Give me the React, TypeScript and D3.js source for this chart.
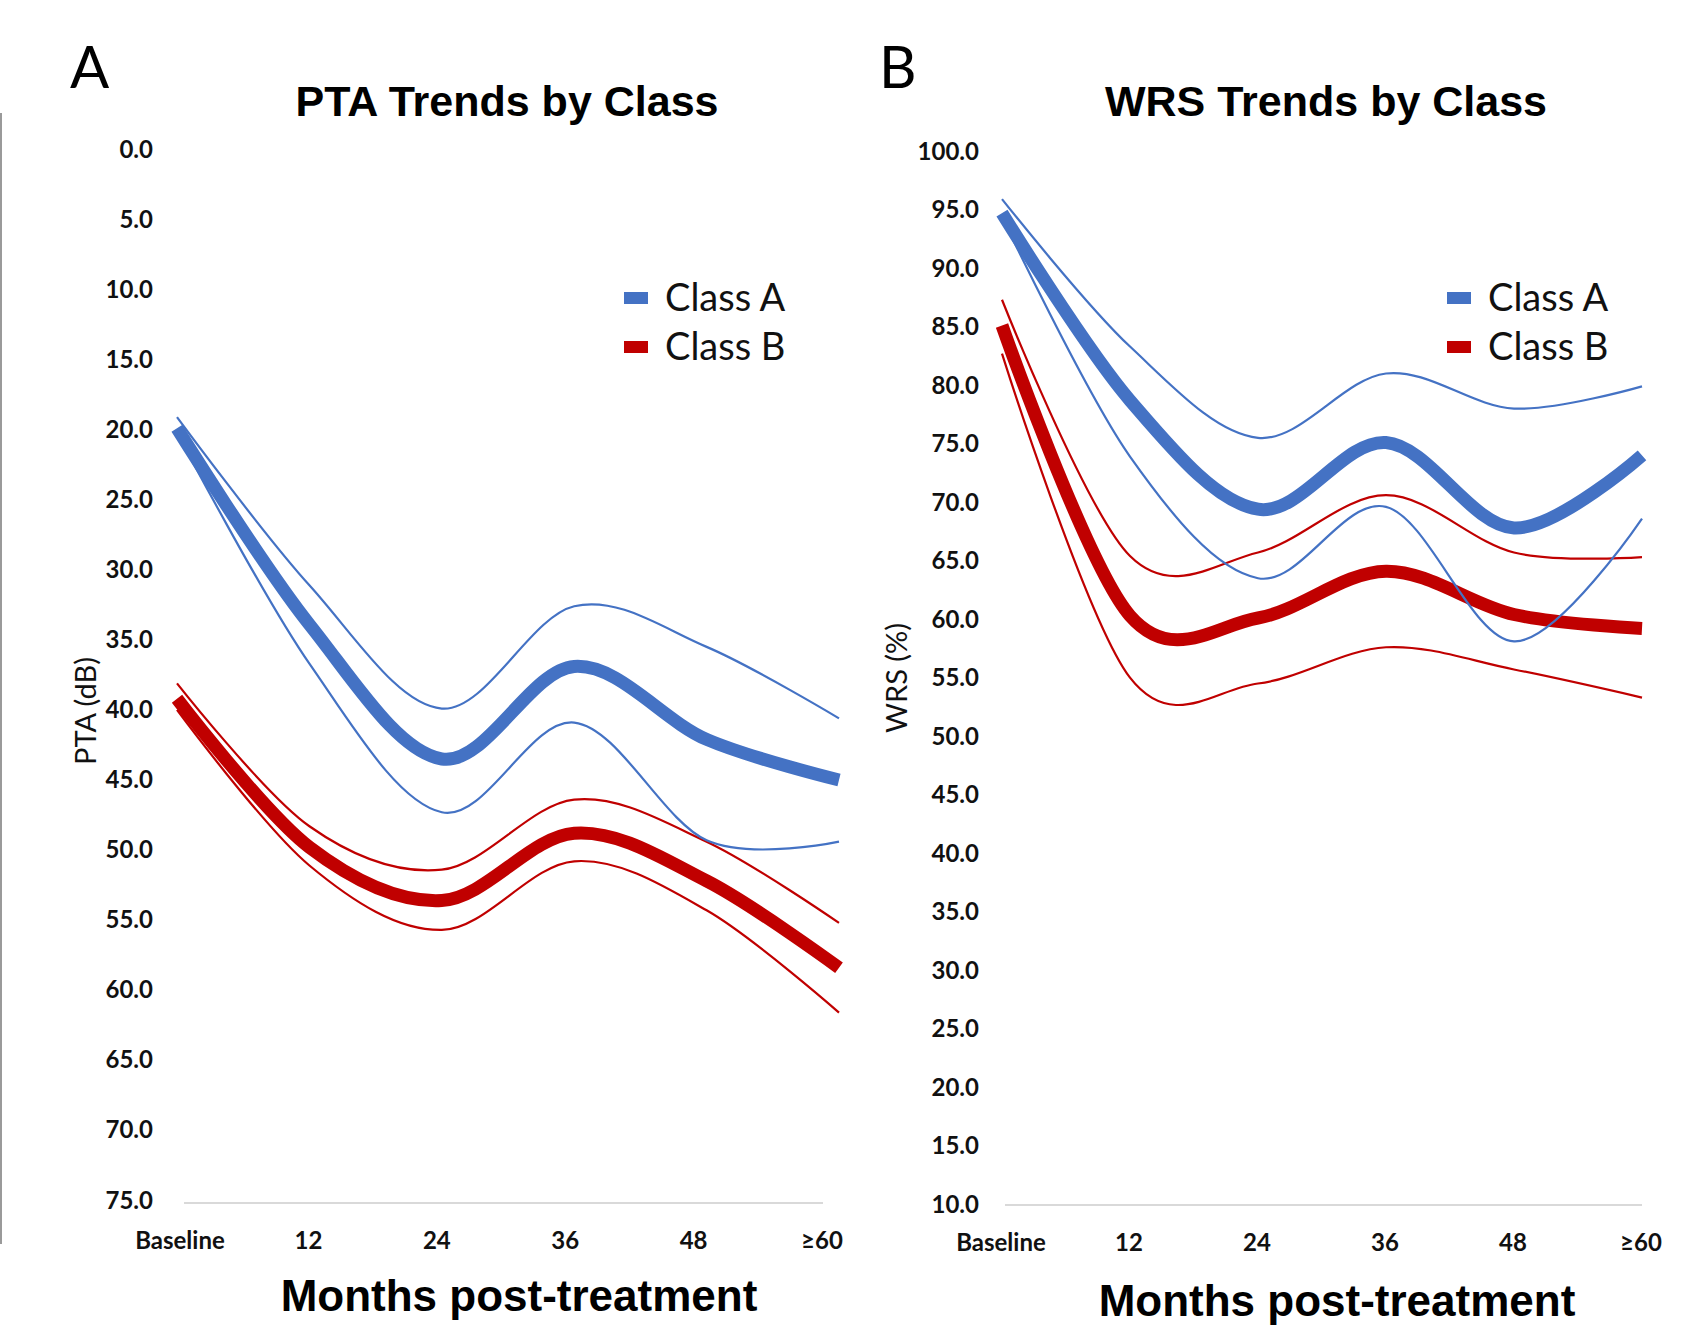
import * as d3 from 'd3'

// categories and tick labels
const months = ['Baseline', '12', '24', '36', '48', '≥60']
const ptaTicks = [0, 5, 10, 15, 20, 25, 30, 35, 40, 45, 50, 55, 60, 65, 70, 75]
const wrsTicks = [10, 15, 20, 25, 30, 35, 40, 45, 50, 55, 60, 65, 70, 75, 80, 85, 90, 95, 100]

// PTA (dB), mean and 95% band per class
const ptaA = [20.0, 34.0, 43.6, 37.0, 42.2, 45.1]
const ptaAUpper = [19.2, 31.2, 40.0, 32.7, 35.6, 40.7]
const ptaALower = [20.3, 36.8, 47.4, 41.0, 49.4, 49.5]
const ptaB = [39.3, 49.9, 53.7, 48.9, 52.3, 58.5]
const ptaBUpper = [38.2, 48.4, 51.5, 46.5, 49.5, 55.3]
const ptaBLower = [40.1, 51.2, 55.8, 50.9, 54.4, 61.7]

// WRS (%), mean and 95% band per class
const wrsA = [94.6, 78.6, 69.3, 75.0, 67.7, 73.9]
const wrsAUpper = [95.8, 83.2, 75.4, 80.9, 77.9, 79.8]
const wrsALower = [94.3, 73.8, 63.4, 69.5, 58.0, 68.5]
const wrsB = [85.0, 60.2, 60.0, 64.0, 60.3, 59.1]
const wrsBUpper = [87.2, 65.3, 65.6, 70.5, 65.6, 65.2]
const wrsBLower = [82.6, 54.9, 54.4, 57.5, 55.6, 53.2]

const BLUE = '#4472C4'
const RED = '#C00000'
const tickFont = 'Lato, "Noto Sans", sans-serif'
const titleFont = '"Liberation Sans", Arial, sans-serif'

interface PanelProps {
  letter: string
  title: string
  yTitle: string
  ticks: number[]
  yDomain: [number, number]
  yRange: [number, number]
  curveRange: [number, number]
  labelRange: [number, number]
  axisY: number
  labelY: number
  tickRight: number
  yTitleX: number
  yTitleY: number
  letterX: number
  titleX: number
  xTitleX: number
  xTitleY: number
  legendX: number
  series: {values: number[], color: string, width: number}[]
}

const Panel = (p: PanelProps) => {
  const y = d3.scaleLinear().domain(p.yDomain).range(p.yRange)
  const xCurve = d3.scalePoint<string>().domain(months).range(p.curveRange)
  const xLabel = d3.scalePoint<string>().domain(months).range(p.labelRange)
  // Excel-style smoothing ~ uniform Catmull-Rom
  const line = d3.line<number>()
    .x((_, i) => xCurve(months[i])!)
    .y(d => y(d))
    .curve(d3.curveCardinal.tension(0))

  return (
    <g>
      <text x={p.letterX} y={88} fontFamily={tickFont} fontSize={58}>{p.letter}</text>
      <text x={p.titleX} y={116} textAnchor="middle" fontFamily={titleFont} fontWeight="bold" fontSize={43}>{p.title}</text>

      {p.ticks.map(t => (
        <text key={t} x={p.tickRight} y={y(t)} textAnchor="end" dominantBaseline="central"
          fontFamily={tickFont} fontWeight="bold" fontSize={24} fill="#111">{t.toFixed(1)}</text>
      ))}
      <line x1={p.labelRange[0] + 4} x2={p.labelRange[1] + 1} y1={p.axisY} y2={p.axisY} stroke="#d9d9d9" strokeWidth={2} />
      {months.map(m => (
        <text key={m} x={xLabel(m)} y={p.labelY} textAnchor="middle" dominantBaseline="central"
          fontFamily={tickFont} fontWeight="bold" fontSize={24} fill="#111">{m}</text>
      ))}

      <text transform={`translate(${p.yTitleX},${p.yTitleY}) rotate(-90)`} textAnchor="middle" dominantBaseline="central"
        fontFamily={tickFont} fontSize={29} fill="#111">{p.yTitle}</text>
      <text x={p.xTitleX} y={p.xTitleY} textAnchor="middle" fontFamily={titleFont} fontWeight="bold" fontSize={44}>Months post-treatment</text>

      {p.series.map((s, i) => (
        <path key={i} d={line(s.values) ?? ''} fill="none" stroke={s.color} strokeWidth={s.width} />
      ))}

      <rect x={p.legendX} y={292} width={24} height={12} fill={BLUE} />
      <text x={p.legendX + 41} y={296} dominantBaseline="central" fontFamily={tickFont} fontSize={38} fill="#111">Class A</text>
      <rect x={p.legendX} y={341} width={24} height={12} fill={RED} />
      <text x={p.legendX + 41} y={345} dominantBaseline="central" fontFamily={tickFont} fontSize={38} fill="#111">Class B</text>
    </g>
  )
}

export default function App() {
  return (
    <svg width={1681} height={1326} style={{position: 'absolute', left: 0, top: 0, background: '#fff'}}>
      <rect width={1681} height={1326} fill="#fff" />
      <line x1={1} x2={1} y1={113} y2={1244} stroke="#9a9a9a" strokeWidth={2} />
      <Panel
        letter="A" title="PTA Trends by Class" yTitle="PTA (dB)"
        ticks={ptaTicks} yDomain={[0, 75]} yRange={[148, 1199]}
        curveRange={[177, 839]} labelRange={[180, 822]}
        axisY={1203} labelY={1239} tickRight={153}
        yTitleX={84} yTitleY={711} letterX={70} titleX={507}
        xTitleX={519} xTitleY={1311} legendX={624}
        series={[
          {values: ptaBUpper, color: RED, width: 2.2},
          {values: ptaBLower, color: RED, width: 2.2},
          {values: ptaB, color: RED, width: 13},
          {values: ptaAUpper, color: BLUE, width: 2.2},
          {values: ptaALower, color: BLUE, width: 2.2},
          {values: ptaA, color: BLUE, width: 13},
        ]}
      />
      <Panel
        letter="B" title="WRS Trends by Class" yTitle="WRS (%)"
        ticks={wrsTicks} yDomain={[10, 100]} yRange={[1203, 150]}
        curveRange={[1002, 1642]} labelRange={[1001, 1641]}
        axisY={1205} labelY={1241} tickRight={979}
        yTitleX={895} yTitleY={678} letterX={879} titleX={1326}
        xTitleX={1337} xTitleY={1316} legendX={1447}
        series={[
          {values: wrsBUpper, color: RED, width: 2.2},
          {values: wrsBLower, color: RED, width: 2.2},
          {values: wrsB, color: RED, width: 13},
          {values: wrsAUpper, color: BLUE, width: 2.2},
          {values: wrsALower, color: BLUE, width: 2.2},
          {values: wrsA, color: BLUE, width: 13},
        ]}
      />
    </svg>
  )
}
